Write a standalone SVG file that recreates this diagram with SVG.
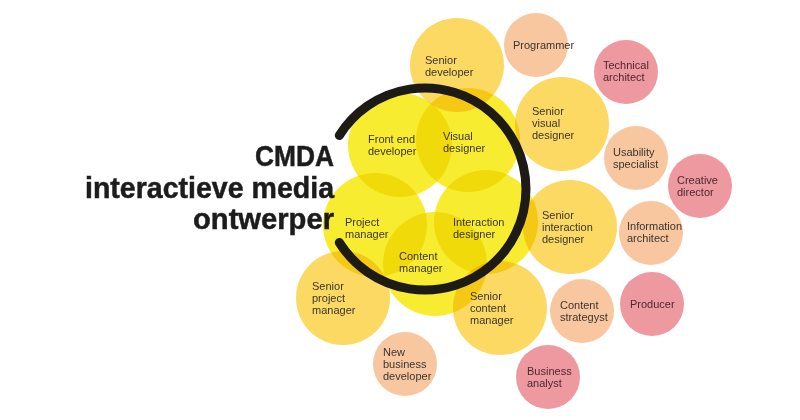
<svg xmlns="http://www.w3.org/2000/svg" width="800" height="420" viewBox="0 0 800 420">
<style>
circle{mix-blend-mode:multiply}
.core{fill:#f8ec30}
.senior{fill:#fcd963}
.peach{fill:#f8c7a0}
.pink{fill:#ee98a0}
text{font-family:"Liberation Sans",Arial,sans-serif;font-size:11px;fill:#3a3530}
.pk text{fill:#4a2a2e}
.title{font-family:"Liberation Sans Narrow","Liberation Sans",Arial,sans-serif;font-weight:bold;font-size:30px;fill:#1c1c1c;stroke:#1c1c1c;stroke-width:0.5;text-anchor:end}
</style>
<rect width="800" height="420" fill="#ffffff"/>
<g id="title">
<text class="title" x="334" y="166" textLength="79" lengthAdjust="spacingAndGlyphs">CMDA</text>
<text class="title" x="334" y="198" textLength="249" lengthAdjust="spacingAndGlyphs">interactieve media</text>
<text class="title" x="334" y="229" textLength="141" lengthAdjust="spacingAndGlyphs">ontwerper</text>
</g>
<g id="senior-developer"><circle class="senior" cx="457" cy="65" r="47"/><text x="425" y="64">Senior</text><text x="425" y="76">developer</text></g>
<g id="senior-visual-designer"><circle class="senior" cx="562" cy="124" r="47"/><text x="532" y="115">Senior</text><text x="532" y="127">visual</text><text x="532" y="139">designer</text></g>
<g id="senior-interaction-designer"><circle class="senior" cx="570" cy="227" r="47"/><text x="542" y="219">Senior</text><text x="542" y="231">interaction</text><text x="542" y="243">designer</text></g>
<g id="senior-content-manager"><circle class="senior" cx="500" cy="308" r="47"/><text x="470" y="300">Senior</text><text x="470" y="312">content</text><text x="470" y="324">manager</text></g>
<g id="senior-project-manager"><circle class="senior" cx="343" cy="298" r="47"/><text x="312" y="290">Senior</text><text x="312" y="302">project</text><text x="312" y="314">manager</text></g>
<g id="front-end-developer"><circle class="core" cx="400" cy="145" r="52"/><text x="368" y="143">Front end</text><text x="368" y="155">developer</text></g>
<g id="visual-designer"><circle class="core" cx="468" cy="140" r="52"/><text x="443" y="140">Visual</text><text x="443" y="152">designer</text></g>
<g id="interaction-designer"><circle class="core" cx="486" cy="222" r="52"/><text x="453" y="226">Interaction</text><text x="453" y="238">designer</text></g>
<g id="content-manager"><circle class="core" cx="435" cy="264" r="52"/><text x="399" y="260">Content</text><text x="399" y="272">manager</text></g>
<g id="project-manager"><circle class="core" cx="375" cy="225" r="52"/><text x="345" y="226">Project</text><text x="345" y="238">manager</text></g>
<g id="programmer"><circle class="peach" cx="536" cy="45" r="32"/><text x="513" y="49">Programmer</text></g>
<g id="usability-specialist"><circle class="peach" cx="636" cy="158" r="32"/><text x="613" y="156">Usability</text><text x="613" y="168">specialist</text></g>
<g id="information-architect"><circle class="peach" cx="651" cy="233" r="32"/><text x="627" y="230">Information</text><text x="627" y="242">architect</text></g>
<g id="content-strategyst"><circle class="peach" cx="582" cy="311" r="32"/><text x="560" y="309">Content</text><text x="560" y="321">strategyst</text></g>
<g id="new-business-developer"><circle class="peach" cx="405" cy="364" r="32"/><text x="383" y="356">New</text><text x="383" y="368">business</text><text x="383" y="380">developer</text></g>
<g id="technical-architect" class="pk"><circle class="pink" cx="626" cy="72" r="32"/><text x="603" y="69">Technical</text><text x="603" y="81">architect</text></g>
<g id="creative-director" class="pk"><circle class="pink" cx="700" cy="186" r="32"/><text x="677" y="184">Creative</text><text x="677" y="196">director</text></g>
<g id="producer" class="pk"><circle class="pink" cx="652" cy="304" r="32"/><text x="630" y="308">Producer</text></g>
<g id="business-analyst" class="pk"><circle class="pink" cx="548" cy="377" r="32"/><text x="527" y="375">Business</text><text x="527" y="387">analyst</text></g>
<g id="connectors">
<path d="M339.3 135.5 A101 101 0 1 1 339.3 242.5" fill="none" stroke="#1e1a16" stroke-width="9" stroke-linecap="round"/>
</g>
</svg>
